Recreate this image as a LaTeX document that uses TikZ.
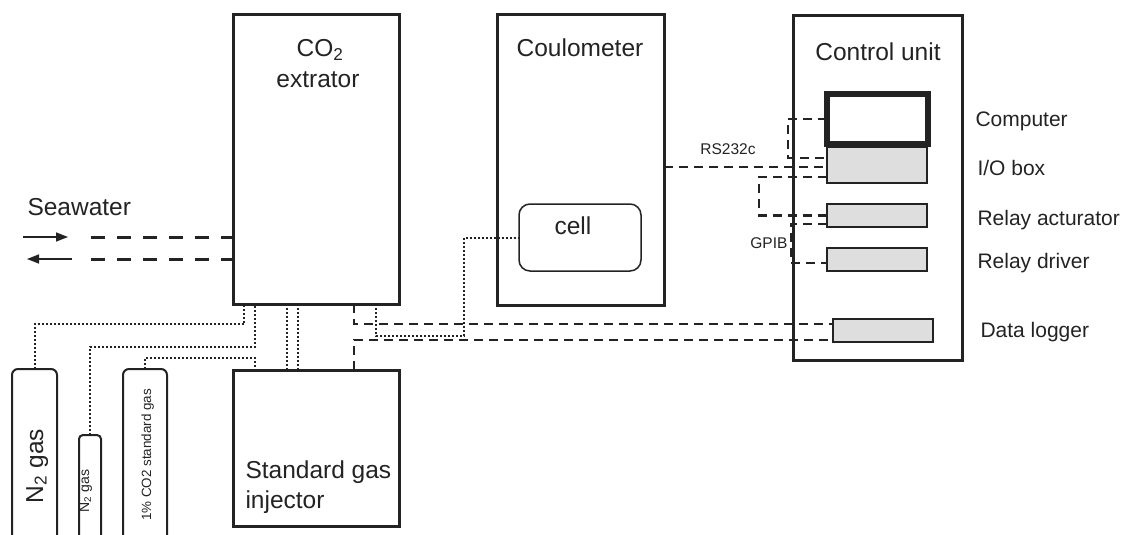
\documentclass[tikz,border=0pt]{standalone}
\usepackage{fontspec}
\setmainfont{Liberation Sans}
\usetikzlibrary{arrows.meta, positioning, calc}
\definecolor{ink}{RGB}{35,35,35}
\definecolor{panel}{RGB}{222,222,222}

\begin{document}
\begin{tikzpicture}[x=1pt, y=-1pt, ink,
  unit/.style={draw, line width=3pt, inner sep=0pt, outer sep=0pt, anchor=north west},
  module/.style={draw, fill=panel, line width=1.5pt, inner sep=0pt, outer sep=0pt, anchor=north west, minimum width=100pt},
  bottle/.style={draw, line width=2pt, rounded corners=6pt, inner sep=0pt, outer sep=0pt, anchor=north west, minimum height=200pt},
  title/.style={font=\fontsize{24.5}{30}\selectfont, anchor=base},
  tag/.style={font=\fontsize{21}{24}\selectfont, anchor=base west},
  minitag/.style={font=\fontsize{15.5}{18}\selectfont, anchor=base},
  water/.style={line width=3pt, dash pattern=on 14pt off 12pt},
  signal/.style={line width=2.2pt, dash pattern=on 9pt off 6pt},
  gasline/.style={line width=2pt, dash pattern=on 2pt off 2pt}]
  \useasboundingbox (0,0) rectangle (1124,535);
  \clip (0,0) rectangle (1124,535);

  \node[unit, minimum width=166pt, minimum height=289pt] (co2) at (233,15) {};
  \node[unit, minimum width=167pt, minimum height=290pt] (coul) at (497,15) {};
  \node[unit, minimum width=169pt, minimum height=344pt] (ctrl) at (793,16) {};
  \node[unit, minimum width=166pt, minimum height=156pt] (inj) at (233,370) {};
  \node[draw, line width=1.5pt, rounded corners=11pt, inner sep=0pt, outer sep=0pt, anchor=north west,
        minimum width=122pt, minimum height=67pt] (cell) at (519,204) {};

  \foreach \nm/\x/\y/\h in {iobox/827/147/36, relact/827/204/23, reldrv/827/248/23, logger/833/319/23}
    \node[module, minimum height=\h*1pt] (\nm) at (\x,\y) {};
  \node[draw, fill=white, line width=6pt, inner sep=0pt, outer sep=0pt, anchor=north west,
        minimum width=101pt, minimum height=50pt] (comp) at (827,94) {};

  \node[bottle, minimum width=45pt] (n2big) at (12,369) {};
  \node[bottle, minimum width=22pt, rounded corners=4pt] (n2small) at (79,435) {};
  \node[bottle, minimum width=44pt] (co2gas) at (123,369) {};

  \node[title] (co2t) at (320,57) {CO\textsubscript{2}};
  \node[title] (co2u) at (318,88) {extrator};
  \node[title] (coult) at (580,57) {Coulometer};
  \node[title] (ctrlt) at (878,60) {Control unit};
  \node[title] (cellt) at (573,234) {cell};
  \node[title, anchor=base west] (injt) at (242,478) {Standard gas};
  \node[title, anchor=base west] (inju) at (242,508) {injector};
  \node[title, anchor=base west] (seat) at (24,215) {Seawater};

  \foreach \nm/\txt/\x/\y in {compl/Computer/972/126, iol/{I/O box}/974/175, relactl/Relay acturator/974/225,
                              reldrvl/Relay driver/974/268, loggerl/Data logger/977/337}
    \node[tag] (\nm) at (\x,\y) {\txt};

  \node[minitag] (rs) at (728,154) {RS232c};
  \node[minitag, anchor=base east] (gpib) at (791,248) {GPIB};

  \node[rotate=90, anchor=base, font=\fontsize{24.5}{28}\selectfont] (n2bigt) at (43,466) {N\textsubscript{2} gas};
  \node[rotate=90, anchor=base, font=\fontsize{14}{16}\selectfont] (n2smallt) at (89,491) {N\textsubscript{2} gas};
  \node[rotate=90, anchor=base, font=\fontsize{13.4}{15}\selectfont] (co2gast) at (151,455) {1\% CO2 standard gas};

  \coordinate (swin) at (91,237);
  \coordinate (swout) at (91,259);
  \coordinate (arin) at (23,237);
  \coordinate (arout) at (72,259);
  \draw[line width=1.5pt, -{Triangle[length=12pt, width=9pt]}] (arin) -- ++(45,0);
  \draw[line width=1.5pt, -{Triangle[length=12pt, width=9pt]}] (arout) -- ++(-45,0);
  \draw[water] (swin) -- (swin -| co2.west);
  \draw[water] (swout) -- (swout -| co2.west);

  \draw[gasline] (n2big.north) |- ($(co2.south west)+(11,20)$) -- ($(co2.south west)+(11,0)$);
  \draw[gasline] (n2small.north) |- ($(co2.south west)+(22,43)$) -- ($(co2.south west)+(22,0)$);
  \draw[gasline] (co2gas.north) |- ($(inj.north west)+(22,-12)$) -- ($(inj.north west)+(22,0)$);
  \foreach \dx in {54,65}
    \draw[gasline] ($(co2.south west)+(\dx,0)$) -- ($(inj.north west)+(\dx,0)$);
  \draw[gasline] ($(co2.south west)+(143,0)$) -- ++(0,32) -| ($(cell.west)+(-55,0)$) -- (cell.west);

  \draw[signal] ($(co2.south west)+(121,0)$) |- ($(logger.north west)+(0,5)$);
  \draw[signal] ($(inj.north west)+(121,0)$) |- ($(logger.south west)+(0,-2)$);
  \draw[signal] ($(coul.north east)+(0,152)$) -- ($(iobox.north west)+(0,20)$);
  \draw[signal] (comp.west) -- ++(-39,0) |- ($(iobox.north west)+(0,11)$);
  \draw[signal] ($(iobox.south west)+(0,-6)$) -- ++(-68,0) |- (relact.west);
  \draw[signal] ($(relact.south west)+(0,-3)$) -- ++(-36,0) |- ($(reldrv.south west)+(0,-8)$);
\end{tikzpicture}
\end{document}
